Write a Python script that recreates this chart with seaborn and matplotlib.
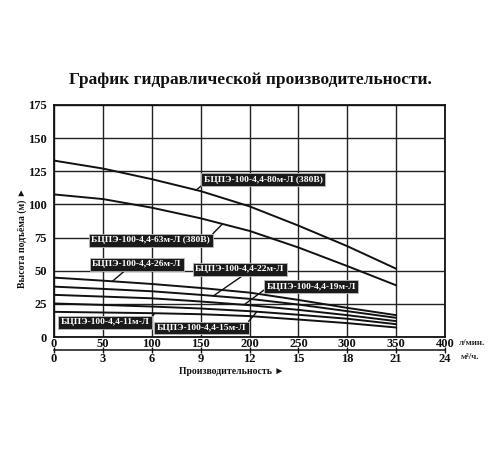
import pandas as pd
import matplotlib
matplotlib.use('Agg')
import matplotlib.pyplot as plt
import seaborn as sns

# flow, l/min
flow = [0, 50, 100, 150, 200, 250, 300, 350]

# head, m, per pump model
head_80 = [133, 127, 119, 110, 98.5, 84, 68.5, 51.5]
head_63 = [107.5, 104, 97.5, 89.5, 80, 67.5, 53.5, 39]
head_26 = [44.8, 42.5, 40, 37, 33.5, 28, 22, 16.5]
head_22 = [38, 36.3, 34.5, 31.8, 28.8, 24.5, 19.5, 14.5]
head_19 = [31.8, 30.5, 29.2, 26.8, 24, 20.5, 16.5, 12]
head_15 = [25.3, 24.2, 23, 21.5, 19.5, 16.8, 13.8, 9.7]
head_11 = [19, 18.5, 18, 17.2, 15.8, 13.2, 10.5, 7.2]

models = ['БЦПЭ-100-4,4-80м-Л (380В)', 'БЦПЭ-100-4,4-63м-Л (380В)',
          'БЦПЭ-100-4,4-26м-Л', 'БЦПЭ-100-4,4-22м-Л', 'БЦПЭ-100-4,4-19м-Л',
          'БЦПЭ-100-4,4-15м-Л', 'БЦПЭ-100-4,4-11м-Л']
heads = [head_80, head_63, head_26, head_22, head_19, head_15, head_11]

x_ticks = [0, 50, 100, 150, 200, 250, 300, 350, 400]
x_ticks_m3 = [0, 3, 6, 9, 12, 15, 18, 21, 24]
y_ticks = [0, 25, 50, 75, 100, 125, 150, 175]

# long table for seaborn
rows = []
for name, h in zip(models, heads):
    for q, v in zip(flow, h):
        rows.append({'model': name, 'flow': q, 'head': v})
df = pd.DataFrame(rows)

sns.set_theme(style="white")
plt.rcParams['font.family'] = ['Liberation Serif', 'DejaVu Sans']
plt.rcParams['font.weight'] = 'bold'

fig = plt.figure(figsize=(5, 4.5), dpi=100)
ax = fig.add_axes([0.108, 0.251, 0.782, 0.516])

sns.lineplot(data=df, x='flow', y='head', units='model', estimator=None,
             color='#111111', linewidth=1.4, legend=False, ax=ax)

ax.set_xlim(0, 400)
ax.set_ylim(0, 175)
ax.set_xticks(x_ticks)
ax.set_yticks(y_ticks)
ax.grid(True, color='#222222', linewidth=1.0)
for s in ax.spines.values():
    s.set_color('#111111')
    s.set_linewidth(1.3)
ax.tick_params(axis='both', length=0, labelsize=9, colors='#111111')
ax.tick_params(axis='x', pad=1)
ax.tick_params(axis='y', pad=5)
ax.set_xlabel('')
ax.set_ylabel('')

# second scale in m3/h
sec = ax.secondary_xaxis(-0.055, functions=(lambda x: x * 0.06, lambda x: x / 0.06))
sec.set_xticks(x_ticks_m3)
sec.tick_params(direction='inout', length=5, width=1, labelsize=9, pad=0, colors='#111111')
sec.spines['bottom'].set_linewidth(1.1)
sec.spines['bottom'].set_color('#111111')

ax.text(1.035, -0.026, 'л/мин.', transform=ax.transAxes, fontsize=6.5,
        ha='left', va='center')
ax.text(1.04, -0.088, 'м³/ч.', transform=ax.transAxes, fontsize=6.5,
        ha='left', va='center')

# labels with leader lines: text, box centre, leader tip, leader start on box
box = dict(boxstyle='square,pad=0.25', fc='#1a1a1a', ec='#bbbbbb', lw=0.6)
labels = [
    (models[0], (214, 118.5), (145, 110.5), (0.0, 0.0)),
    (models[1], (99, 72.8), (172, 85), (1.0, 1.0)),
    (models[2], (84.5, 54.8), (60, 42.2), (0.4, 0.0)),
    (models[3], (190, 51), (164, 31.5), (0.57, 0.0)),
    (models[4], (263, 38), (195, 24.6), (0.0, 0.3)),
    (models[5], (151, 6.8), (207, 18.6), (1.0, 1.0)),
    (models[6], (52, 11), (103, 17.8), (1.0, 0.8)),
]
for text, pos, tip, rel in labels:
    ax.annotate(text, xy=tip, xytext=pos, fontsize=6.8, color='white',
                ha='center', va='center', bbox=box,
                arrowprops=dict(arrowstyle='-', color='#111111', lw=1.0,
                                shrinkA=0, shrinkB=0, relpos=rel))

fig.text(0.5, 1 - 80 / 450, 'График гидравлической производительности.',
         ha='center', va='center', fontsize=12.5, fontweight='bold', color='#111111')
fig.text(22 / 500, 1 - 238 / 450, 'Высота подъёма (м) ►', rotation=90,
         ha='center', va='center', fontsize=7, fontweight='bold', color='#111111')
fig.text(232 / 500, 1 - 371 / 450, 'Производительность ►',
         ha='center', va='center', fontsize=7, fontweight='bold', color='#111111')

fig.savefig('out.png', dpi=100)
